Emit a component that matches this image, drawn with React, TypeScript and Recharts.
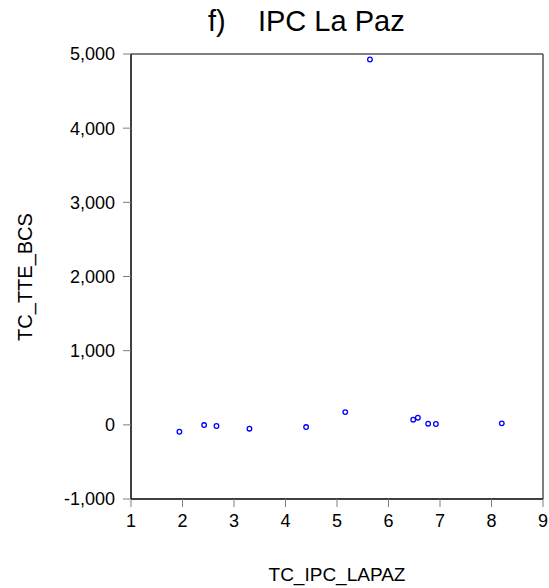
import {
  ReferenceArea,
  Scatter,
  ScatterChart,
  XAxis,
  YAxis
} from "recharts";

// TC_IPC_LAPAZ (x) vs TC_TTE_BCS (y)
const ipcLaPaz = [1.94, 2.42, 2.66, 3.3, 4.4, 5.16, 5.64, 6.48, 6.57, 6.77, 6.92, 8.2];
const tteBcs = [-93, -3, -16, -52, -30, 172, 4926, 69, 96, 15, 11, 20];

const xTicks = [1, 2, 3, 4, 5, 6, 7, 8, 9];
const yTicks = [-1000, 0, 1000, 2000, 3000, 4000, 5000];

const data = ipcLaPaz.map((x, i) => ({ x, y: tteBcs[i] }));

const FONT = '"Liberation Sans", Arial, sans-serif';

const OpenDot = (props: any) => (
  <circle
    cx={props.cx}
    cy={props.cy}
    r={2.3}
    fill="#fff"
    stroke="#0000ff"
    strokeWidth={1.3}
  />
);

const YLabel = () => (
  <text
    x={32}
    y={277}
    transform="rotate(-90, 32, 277)"
    textAnchor="middle"
    fontSize={20}
    fontFamily={FONT}
    fill="#000"
  >
    TC_TTE_BCS
  </text>
);

export default function App() {
  return (
    <div
      style={{
        position: "absolute",
        top: 0,
        left: 0,
        width: 549,
        height: 588,
        background: "#fff",
        fontFamily: FONT
      }}
    >
      <div
        style={{
          position: "absolute",
          top: 7,
          left: 208,
          fontSize: 29,
          lineHeight: 1,
          whiteSpace: "pre",
          color: "#000"
        }}
      >
        {"f)    IPC La Paz"}
      </div>
      <ScatterChart
        width={549}
        height={588}
        margin={{ top: 54, right: 6, bottom: 0, left: 0 }}
      >
        <XAxis
          type="number"
          dataKey="x"
          domain={[1, 9]}
          ticks={xTicks}
          allowDataOverflow
          height={89}
          tickSize={8}
          tickMargin={7}
          axisLine={{ stroke: "#000" }}
          tickLine={{ stroke: "#808080" }}
          tick={{ fill: "#000", fontSize: 18, fontFamily: FONT }}
          label={{
            value: "TC_IPC_LAPAZ",
            position: "insideBottom",
            offset: 7,
            fill: "#000",
            fontSize: 19,
            fontFamily: FONT
          }}
        />
        <YAxis
          type="number"
          dataKey="y"
          domain={[-1000, 5000]}
          ticks={yTicks}
          allowDataOverflow
          width={131}
          tickSize={8}
          tickMargin={8}
          axisLine={{ stroke: "#000" }}
          tickLine={{ stroke: "#808080" }}
          tick={{ fill: "#000", fontSize: 18, fontFamily: FONT }}
          tickFormatter={(v: number) => v.toLocaleString("en-US")}
          label={<YLabel />}
        />
        <ReferenceArea
          x1={1}
          x2={9}
          y1={-1000}
          y2={5000}
          fill="none"
          stroke="#000"
          strokeWidth={1}
        />
        <Scatter
          data={data}
          shape={<OpenDot />}
          isAnimationActive={false}
        />
      </ScatterChart>
    </div>
  );
}
